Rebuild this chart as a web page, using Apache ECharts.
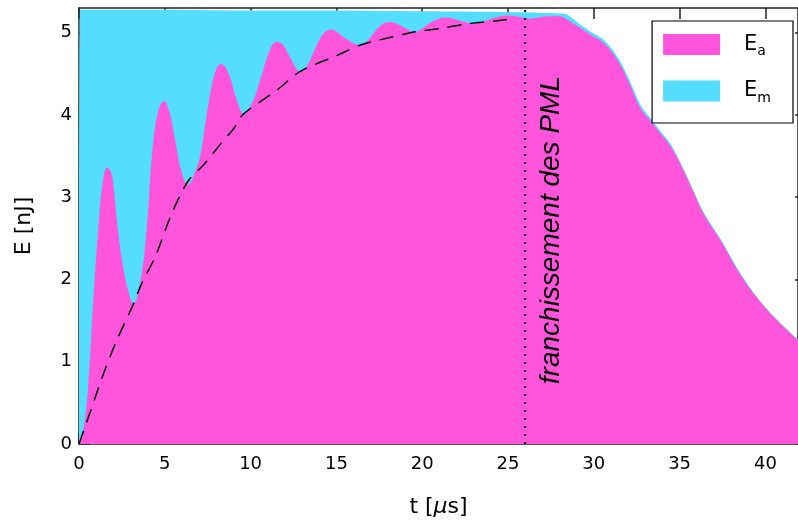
<!DOCTYPE html>
<html>
<head>
<meta charset="utf-8">
<script src="https://cdn.jsdelivr.net/npm/echarts@6/dist/echarts.min.js"></script>
<style>html,body{margin:0;padding:0;background:#fff;}#c{width:798px;height:523px;}</style>
</head>
<body>
<div id="c"></div>
<script>
// ---- data ----
const eaTime = [0,0.25,0.54,0.83,1.13,1.42,1.65,1.9,2.0,2.29,2.58,2.87,3.17,3.56,3.95,4.28,4.62,4.96,5.25,5.6,5.95,6.36,6.7,7.06,7.4,7.75,8.03,8.26,8.5,8.8,9.2,9.62,10.1,10.55,11.14,11.53,11.9,12.3,12.89,13.3,13.66,14.25,14.73,15.1,15.6,16.38,16.8,17.16,17.6,18.13,18.5,18.9,19.59,20.0,20.47,21.0,21.44,22.3,23.1,24.0,25.0,25.7,26.3,26.9,27.4,28.0,28.6,29.2,30.0,30.6,31.4,32.0,32.7,33.3,33.9,34.5,35.4,36.4,37.4,38.5,39.5,40.5,41.9];
const eaValue = [0,0.16,0.73,1.74,2.63,3.24,3.36,3.28,3.16,2.56,2.15,1.86,1.70,1.95,2.63,3.57,4.05,4.17,4.05,3.70,3.33,3.15,3.27,3.50,3.95,4.37,4.57,4.62,4.59,4.46,4.18,4.01,4.15,4.42,4.80,4.89,4.85,4.70,4.53,4.60,4.76,4.99,5.04,5.00,4.92,4.85,4.90,4.99,5.09,5.13,5.11,5.07,5.01,5.05,5.12,5.17,5.18,5.14,5.11,5.17,5.21,5.19,5.17,5.19,5.20,5.20,5.14,5.06,4.95,4.87,4.66,4.42,4.09,3.93,3.77,3.61,3.25,2.80,2.47,2.07,1.78,1.54,1.26];
const emTime = [0,0.06,5,10,15,20,25,27,28.3,28.6,29.2,30.0,30.6,31.4,32.0,32.7,33.3,33.9,34.5,35.4,36.4,37.4,38.5,39.5,40.5,41.9];
const emValue = [0,5.28,5.28,5.27,5.27,5.26,5.25,5.24,5.23,5.20,5.10,4.99,4.91,4.70,4.46,4.13,3.96,3.80,3.64,3.27,2.82,2.49,2.09,1.79,1.55,1.27];
const fitTime = [0,0.64,1.42,2.2,3.17,3.65,4.43,5.4,6.37,7.25,8.42,9.0,9.58,11.53,12.9,15.0,16.4,18.3,19.6,21.05,22.7,24.6,25.2];
const fitValue = [0,0.38,0.85,1.26,1.70,1.95,2.27,2.80,3.20,3.39,3.69,3.83,4.01,4.30,4.53,4.72,4.85,4.95,5.01,5.05,5.11,5.15,5.17];
const pmlTime = 26;
const annotText = 'franchissement des PML';
const xTicks = [0,5,10,15,20,25,30,35,40];
const yTicks = [0,1,2,3,4,5];
const xMax = 41.9, yMax = 5.3;

const pairs = (a, b) => a.map((v, i) => [v, b[i]]);
const AX = '#222';
const FONT = 'DejaVu Sans';

const chart = echarts.init(document.getElementById('c'), null, {renderer: 'canvas'});
const axisCommon = {
  type: 'value',
  axisLine: {show: true, onZero: false, lineStyle: {color: AX, width: 1.5}},
  axisTick: {show: true, inside: true, length: 11, lineStyle: {color: AX, width: 1.5}},
  splitLine: {show: false}
};
chart.setOption({
  animation: false,
  backgroundColor: '#fff',
  grid: {left: 79, right: 0, top: 8, bottom: 79, containLabel: false},
  legend: {
    right: 5, top: 21,
    orient: 'vertical',
    data: ['Ea', 'Em'],
    icon: 'rect',
    itemWidth: 57, itemHeight: 21, itemGap: 22,
    padding: [13, 22, 18, 11],
    borderColor: '#000', borderWidth: 1.2, backgroundColor: '#fff',
    formatter: n => '{e|E}{s|' + n.slice(1) + '}',
    textStyle: {
      rich: {
        e: {fontFamily: FONT, fontSize: 21, color: '#000', padding: [0, 0, 0, 19]},
        s: {fontFamily: FONT, fontSize: 14, color: '#000', verticalAlign: 'bottom', padding: [14, 0, 0, 0]}
      }
    }
  },
  xAxis: [
    Object.assign({}, axisCommon, {
      min: 0, max: xMax, position: 'bottom',
      name: 't [{mu|μ}s]', nameLocation: 'middle', nameGap: 52,
      nameTextStyle: {fontFamily: FONT, fontSize: 22, color: '#000', rich: {mu: {fontFamily: FONT, fontStyle: 'italic', fontSize: 22, color: '#000'}}},
      axisTick: Object.assign({}, axisCommon.axisTick, {customValues: xTicks}),
      axisLabel: {customValues: xTicks, fontFamily: FONT, fontSize: 18, color: '#000', margin: 11}
    }),
    Object.assign({}, axisCommon, {
      min: 0, max: xMax, position: 'top',
      axisTick: Object.assign({}, axisCommon.axisTick, {customValues: xTicks}),
      axisLabel: {show: false}
    })
  ],
  yAxis: [
    Object.assign({}, axisCommon, {
      min: 0, max: yMax, position: 'left',
      name: 'E [nJ]', nameLocation: 'middle', nameGap: 44,
      nameTextStyle: {fontFamily: FONT, fontSize: 22, color: '#000'},
      axisTick: Object.assign({}, axisCommon.axisTick, {customValues: yTicks}),
      axisLabel: {customValues: yTicks, fontFamily: FONT, fontSize: 18, color: '#000', margin: 7}
    }),
    Object.assign({}, axisCommon, {
      min: 0, max: yMax, position: 'right',
      axisTick: Object.assign({}, axisCommon.axisTick, {customValues: yTicks, length: 3}),
      axisLabel: {show: false}
    })
  ],
  series: [
    {
      name: 'Em', type: 'line', data: pairs(emTime, emValue), showSymbol: false, symbol: 'none',
      smooth: 0.3,
      lineStyle: {width: 0}, itemStyle: {color: '#55DDFF'},
      areaStyle: {color: '#55DDFF', opacity: 1}, z: 1
    },
    {
      name: 'Ea', type: 'line', data: pairs(eaTime, eaValue), showSymbol: false, symbol: 'none',
      smooth: 0.4,
      lineStyle: {width: 0}, itemStyle: {color: '#FF55DD'},
      areaStyle: {color: '#FF55DD', opacity: 1}, z: 2
    },
    {
      name: 'fit', type: 'line', data: pairs(fitTime, fitValue), showSymbol: false, symbol: 'none',
      smooth: 0.3, lineStyle: {color: '#000', width: 1.5, type: [14, 9]}, z: 3
    },
    {
      name: 'pml', type: 'line', data: [[pmlTime, 0], [pmlTime, yMax]], showSymbol: false, symbol: 'none',
      lineStyle: {color: '#000', width: 2, type: [2, 6]}, z: 3
    }
  ]
});

const p = chart.convertToPixel({xAxisIndex: 0, yAxisIndex: 0}, [pmlTime + 1.5, yMax / 2 - 0.05]);
chart.setOption({
  graphic: [{
    type: 'text', x: p[0], y: p[1], rotation: Math.PI / 2, z: 10,
    style: {text: annotText, font: 'italic 28px "Liberation Sans"', fill: '#000', align: 'center', verticalAlign: 'middle'}
  }]
});
</script>
</body>
</html>
